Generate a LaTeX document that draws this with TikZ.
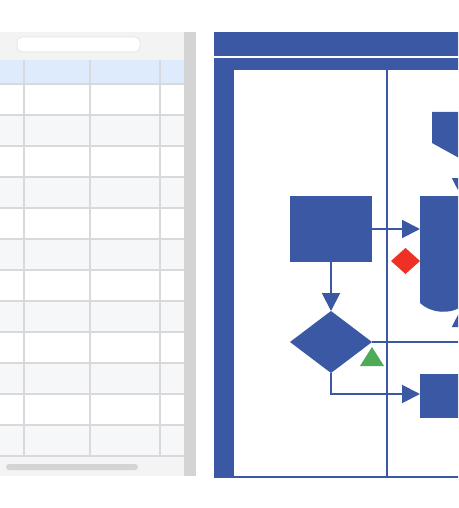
\documentclass[tikz,border=0pt]{standalone}
\usetikzlibrary{arrows.meta,shapes.geometric}
\definecolor{lane}{HTML}{3B58A5}
\definecolor{mred}{HTML}{EE3124}
\definecolor{mgreen}{HTML}{4DAA57}
\definecolor{grid}{HTML}{D9D9DC}
\definecolor{rowalt}{HTML}{F6F7F9}
\definecolor{headblue}{HTML}{DEEBFC}
\definecolor{toolbar}{HTML}{F3F3F3}
\definecolor{sbar}{HTML}{D4D4D4}
\tikzset{
  shp/.style={fill=lane, draw=none, inner sep=0pt, outer sep=0pt},
  conn/.style={draw=lane, line width=2pt},
  arr/.style={conn, -{Triangle[length=18pt,width=18pt]}},
  laneline/.style={draw=lane, line width=2pt},
  gridline/.style={draw=grid, line width=1.5pt},
}
\begin{document}
\begin{tikzpicture}[x=1pt,y=-1pt]
\useasboundingbox (0,0) rectangle (458,508);
\clip (0,0) rectangle (458,508);
% ---------- spreadsheet panel ----------
\fill[toolbar] (0,32) rectangle (184,60);
\draw[fill=white, draw=grid!60, line width=1pt, rounded corners=5pt] (17,37) rectangle (140,52);
\fill[headblue] (0,60) rectangle (184,84);
\foreach \i in {0,...,11}{
  \pgfmathsetmacro{\ya}{84+31*\i}
  \pgfmathsetmacro{\yb}{115+31*\i}
  \ifodd\i \fill[rowalt] (0,\ya) rectangle (184,\yb); \else \fill[white] (0,\ya) rectangle (184,\yb); \fi
}
\foreach \y in {84,115,146,177,208,239,270,301,332,363,394,425,456}{
  \draw[gridline] (0,\y) -- (184,\y);
}
\foreach \x in {24,90,160}{
  \draw[gridline] (\x,60) -- (\x,456);
}
\fill[toolbar!80!rowalt] (0,457) rectangle (184,476);
\fill[sbar, rounded corners=3pt] (6,464) rectangle (138,470);
\fill[sbar] (184,32) rectangle (196,476);
% ---------- swimlane panel ----------
\fill[lane] (214,32) rectangle (460,56);
\fill[lane] (214,58) rectangle (460,70);
\fill[lane] (214,58) rectangle (234,478);
\draw[laneline] (234,477) -- (460,477);
\draw[laneline] (387,70) -- (387,478);
% shapes
\node[shp, rectangle, minimum width=82pt, minimum height=66pt] (box1) at (331,229) {};
\node[shp, diamond, minimum width=82pt, minimum height=62pt] (dec) at (331,342) {};
\node[shp, rectangle, minimum width=82pt, minimum height=44pt] (box3) at (461,396) {};
\coordinate (box3w) at (420,394);
% off-page connector
\fill[lane] (432,112) -- (490,112) -- (490,143) -- (461,159) -- (432,143) -- cycle;
\coordinate (off) at (461,159);
% document shape
\fill[lane] (420,196) -- (420,303) .. controls (432,314) and (450,314) .. (461,307)
  .. controls (475,299) and (490,299) .. (502,303) -- (502,196) -- cycle;
\coordinate (docn) at (461,196);
\coordinate (docw) at (420,229);
\coordinate (docs) at (461,309);
% connectors
\draw[arr] (off) -- (docn);
\draw[arr] (box1.east) -- (docw);
\draw[arr] (box1.south) -- (dec.north);
\draw[arr] (dec.east) -| (docs);
\draw[arr] (dec.south) |- (box3w);
% markers
\fill[mred] (405.5,248) -- (420,261) -- (405.5,274) -- (391,261) -- cycle;
\fill[mgreen] (372,347) -- (384,366) -- (360,366) -- cycle;
\end{tikzpicture}
\end{document}
